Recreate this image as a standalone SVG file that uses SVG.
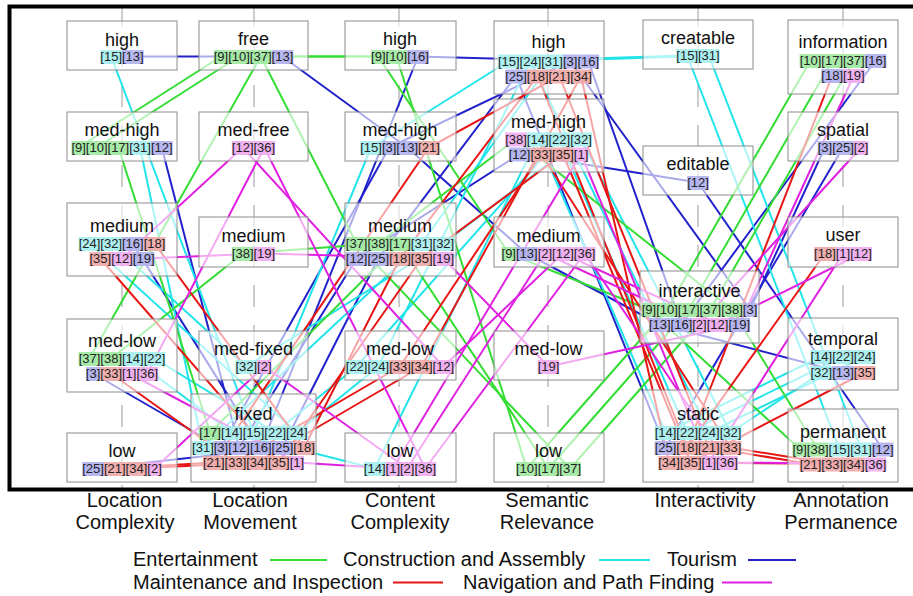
<svg xmlns="http://www.w3.org/2000/svg" width="913" height="596" viewBox="0 0 913 596">
<style>
.ax{stroke:#9a9a9a;stroke-width:1;stroke-dasharray:22 18;fill:none}
.box{fill:#fff;fill-opacity:.62;stroke:#8c8c8c;stroke-width:1}
.ttl{font-family:"Liberation Sans",Arial,sans-serif;font-size:18px;fill:#111;text-anchor:middle}
.tg{font-family:"Liberation Sans",Arial,sans-serif;font-size:13px;fill:#222;text-anchor:middle}
.lbl{font-family:"Liberation Sans",Arial,sans-serif;font-size:20px;fill:#111;text-anchor:middle}
.leg{font-family:"Liberation Sans",Arial,sans-serif;font-size:20px;fill:#111}
#connectors polyline,.ll{fill:none;stroke-width:2;stroke-linejoin:round}
.E{stroke:#33dd33}.C{stroke:#22e4ea}.T{stroke:#2222cc}.M{stroke:#e81515}.N{stroke:#e020e0}
.e{fill:#9fe89f}.c{fill:#a5eeee}.t{fill:#b0b0f0}.m{fill:#f0a7a7}.n{fill:#eeaaee}
.e,.c,.t,.m,.n{fill-opacity:.9}
</style>
<rect width="913" height="596" fill="#fff"/>
<g id="axes">
<line class="ax" x1="122" y1="5" x2="122" y2="488"/>
<line class="ax" x1="254" y1="5" x2="254" y2="488"/>
<line class="ax" x1="399" y1="5" x2="399" y2="488"/>
<line class="ax" x1="548" y1="5" x2="548" y2="488"/>
<line class="ax" x1="698" y1="5" x2="698" y2="488"/>
<line class="ax" x1="843" y1="5" x2="843" y2="488"/>
</g>
<g id="connectors">
<polyline class="T" points="93.1,373.5 221,447.5 389.2,147.5 570.2,61 750.1,309.5 824.9,147.5"/>
<polyline class="T" points="161.8,147.5 239.1,447.5 356.6,258.5 519.6,154 698,182.5 882.8,449"/>
<polyline class="T" points="132.8,56.5 282.4,56.5 407.2,147.5 526.8,253.5 659.8,324.5 843,372.5"/>
<polyline class="T" points="132.8,243.5 260.7,447.5 418.1,56.5 588.3,61 681.4,324.5 875.5,60.5"/>
<polyline class="T" points="93.1,468.5 282.4,447.5 378.3,258.5 516,76 665.5,447.5 843,147.5"/>
<polyline class="C" points="132.8,358.5 231.8,432.5 374.7,468.5 537.7,139 665.5,432.5 821.3,356.5"/>
<polyline class="C" points="111.2,56.5 253.5,432.5 371.1,147.5 508.8,61 687.2,55.5 839.4,449"/>
<polyline class="C" points="154.5,358.5 275.2,432.5 356.6,366.5 559.3,139 687.2,432.5 843,356.5"/>
<polyline class="C" points="89.5,243.5 296.9,432.5 378.3,366.5 530.4,61 708.8,432.5 864.7,356.5"/>
<polyline class="C" points="140.1,147.5 202.9,447.5 421.7,243.5 552.1,61 708.8,55.5 861.1,449"/>
<polyline class="C" points="111.2,243.5 246.3,366.5 443.4,243.5 581,139 730.5,432.5 821.3,372.5"/>
<polyline class="E" points="78.6,147.5 221,56.5 378.3,56.5 508.8,253.5 648.9,309.5 799.6,449"/>
<polyline class="E" points="96.7,147.5 239.1,56.5 396.4,56.5 526.8,468.5 667,309.5 810.5,60.5"/>
<polyline class="E" points="118.4,147.5 210.1,432.5 400,243.5 548.5,468.5 688.7,309.5 832.2,60.5"/>
<polyline class="E" points="89.5,358.5 260.7,56.5 356.6,243.5 570.2,468.5 710.3,309.5 853.8,60.5"/>
<polyline class="E" points="111.2,358.5 242.7,253.5 378.3,243.5 516,139 732,309.5 817.7,449"/>
<polyline class="M" points="154.5,243.5 304.1,447.5 400,258.5 537.7,76 687.2,447.5 824.9,253.5"/>
<polyline class="M" points="687.2,447.5 832.2,75.5"/>
<polyline class="M" points="114.8,468.5 213.8,462.5 428.9,147.5 559.3,76 708.8,447.5 810.5,464"/>
<polyline class="M" points="111.2,373.5 235.4,462.5 400,366.5 541.3,154 730.5,447.5 832.2,464"/>
<polyline class="M" points="136.5,468.5 257.1,462.5 421.7,366.5 581,76 669.1,462.5 853.8,464"/>
<polyline class="M" points="100.3,258.5 278.8,462.5 421.7,258.5 563,154 690.8,462.5 864.7,372.5"/>
<polyline class="N" points="129.2,373.5 296.9,462.5 392.8,468.5 581,154 708.8,462.5 843,253.5"/>
<polyline class="N" points="154.5,468.5 264.3,366.5 407.2,468.5 544.9,253.5 699.5,324.5 861.1,147.5"/>
<polyline class="N" points="122,258.5 242.7,147.5 443.4,366.5 563,253.5 717.6,324.5 861.1,253.5"/>
<polyline class="N" points="143.7,258.5 264.3,253.5 443.4,258.5 548.5,366.5 739.3,324.5 853.8,75.5"/>
<polyline class="N" points="147.3,373.5 264.3,147.5 425.3,468.5 584.6,253.5 726.9,462.5 875.5,464"/>
</g>

<g id="lc-high"><rect class="box" x="67" y="21" width="110" height="49"/>
<rect class="c" x="100.3" y="50" width="21.7" height="14"/><rect class="t" x="122" y="50" width="21.7" height="14"/>
<text class="ttl" x="122" y="45.5">high</text><text class="tg" x="122" y="61">[15][13]</text></g>
<g id="lc-medhigh"><rect class="box" x="67" y="112" width="110" height="49"/>
<rect class="e" x="71.4" y="141" width="14.5" height="14"/><rect class="e" x="85.9" y="141" width="21.7" height="14"/><rect class="e" x="107.6" y="141" width="21.7" height="14"/><rect class="c" x="129.2" y="141" width="21.7" height="14"/><rect class="t" x="150.9" y="141" width="21.7" height="14"/>
<text class="ttl" x="122" y="135.5">med-high</text><text class="tg" x="122" y="152">[9][10][17][31][12]</text></g>
<g id="lc-medium"><rect class="box" x="67" y="203" width="110" height="73"/>
<rect class="c" x="78.6" y="237" width="21.7" height="14"/><rect class="c" x="100.3" y="237" width="21.7" height="14"/><rect class="t" x="122" y="237" width="21.7" height="14"/><rect class="m" x="143.7" y="237" width="21.7" height="14"/>
<rect class="m" x="89.5" y="252" width="21.7" height="14"/><rect class="n" x="111.2" y="252" width="21.7" height="14"/><rect class="t" x="132.8" y="252" width="21.7" height="14"/>
<text class="ttl" x="122" y="232">medium</text><text class="tg" x="122" y="248">[24][32][16][18]</text><text class="tg" x="122" y="263">[35][12][19]</text></g>
<g id="lc-medlow"><rect class="box" x="67" y="319" width="110" height="73"/>
<rect class="e" x="78.6" y="352" width="21.7" height="14"/><rect class="e" x="100.3" y="352" width="21.7" height="14"/><rect class="c" x="122" y="352" width="21.7" height="14"/><rect class="c" x="143.7" y="352" width="21.7" height="14"/>
<rect class="t" x="85.9" y="367" width="14.5" height="14"/><rect class="m" x="100.3" y="367" width="21.7" height="14"/><rect class="n" x="122" y="367" width="14.5" height="14"/><rect class="n" x="136.5" y="367" width="21.7" height="14"/>
<text class="ttl" x="122" y="347">med-low</text><text class="tg" x="122" y="363">[37][38][14][22]</text><text class="tg" x="122" y="378">[3][33][1][36]</text></g>
<g id="lc-low"><rect class="box" x="67" y="433" width="110" height="49"/>
<rect class="t" x="82.3" y="462" width="21.7" height="14"/><rect class="m" x="103.9" y="462" width="21.7" height="14"/><rect class="m" x="125.6" y="462" width="21.7" height="14"/><rect class="n" x="147.3" y="462" width="14.5" height="14"/>
<text class="ttl" x="122" y="457">low</text><text class="tg" x="122" y="473">[25][21][34][2]</text></g>

<g id="lm-free"><rect class="box" x="199" y="21" width="109" height="49"/>
<rect class="e" x="213.8" y="50" width="14.5" height="14"/><rect class="e" x="228.2" y="50" width="21.7" height="14"/><rect class="e" x="249.9" y="50" width="21.7" height="14"/><rect class="t" x="271.6" y="50" width="21.7" height="14"/>
<text class="ttl" x="253.5" y="45">free</text><text class="tg" x="253.5" y="61">[9][10][37][13]</text></g>
<g id="lm-medfree"><rect class="box" x="199" y="112" width="109" height="49"/>
<rect class="n" x="231.8" y="141" width="21.7" height="14"/><rect class="n" x="253.5" y="141" width="21.7" height="14"/>
<text class="ttl" x="253.5" y="135.5">med-free</text><text class="tg" x="253.5" y="152">[12][36]</text></g>
<g id="lm-medium"><rect class="box" x="199" y="217" width="109" height="50"/>
<rect class="e" x="231.8" y="247" width="21.7" height="14"/><rect class="n" x="253.5" y="247" width="21.7" height="14"/>
<text class="ttl" x="253.5" y="242">medium</text><text class="tg" x="253.5" y="258">[38][19]</text></g>
<g id="lm-medfixed"><rect class="box" x="199" y="331" width="109" height="49"/>
<rect class="c" x="235.4" y="360" width="21.7" height="14"/><rect class="n" x="257.1" y="360" width="14.5" height="14"/>
<text class="ttl" x="253.5" y="355">med-fixed</text><text class="tg" x="253.5" y="371">[32][2]</text></g>
<g id="lm-fixed"><rect class="box" x="191" y="394" width="125" height="88"/>
<rect class="e" x="199.3" y="426" width="21.7" height="14"/><rect class="c" x="221" y="426" width="21.7" height="14"/><rect class="c" x="242.7" y="426" width="21.7" height="14"/><rect class="c" x="264.3" y="426" width="21.7" height="14"/><rect class="c" x="286" y="426" width="21.7" height="14"/>
<rect class="c" x="192.1" y="441" width="21.7" height="14"/><rect class="t" x="213.8" y="441" width="14.5" height="14"/><rect class="t" x="228.2" y="441" width="21.7" height="14"/><rect class="t" x="249.9" y="441" width="21.7" height="14"/><rect class="t" x="271.6" y="441" width="21.7" height="14"/><rect class="m" x="293.3" y="441" width="21.7" height="14"/>
<rect class="m" x="202.9" y="456" width="21.7" height="14"/><rect class="m" x="224.6" y="456" width="21.7" height="14"/><rect class="m" x="246.3" y="456" width="21.7" height="14"/><rect class="m" x="268" y="456" width="21.7" height="14"/><rect class="n" x="289.6" y="456" width="14.5" height="14"/>
<text class="ttl" x="253.5" y="420">fixed</text><text class="tg" x="253.5" y="437">[17][14][15][22][24]</text><text class="tg" x="253.5" y="452">[31][3][12][16][25][18]</text><text class="tg" x="253.5" y="467">[21][33][34][35][1]</text></g>

<g id="cc-high"><rect class="box" x="345" y="21" width="111" height="49"/>
<rect class="e" x="371.1" y="50" width="14.5" height="14"/><rect class="e" x="385.6" y="50" width="21.7" height="14"/><rect class="t" x="407.2" y="50" width="21.7" height="14"/>
<text class="ttl" x="400" y="45">high</text><text class="tg" x="400" y="61">[9][10][16]</text></g>
<g id="cc-medhigh"><rect class="box" x="345" y="112" width="111" height="49"/>
<rect class="c" x="360.3" y="141" width="21.7" height="14"/><rect class="t" x="381.9" y="141" width="14.5" height="14"/><rect class="t" x="396.4" y="141" width="21.7" height="14"/><rect class="m" x="418.1" y="141" width="21.7" height="14"/>
<text class="ttl" x="400" y="135.5">med-high</text><text class="tg" x="400" y="152">[15][3][13][21]</text></g>
<g id="cc-medium"><rect class="box" x="345" y="203" width="111" height="73"/>
<rect class="e" x="345.8" y="237" width="21.7" height="14"/><rect class="e" x="367.5" y="237" width="21.7" height="14"/><rect class="e" x="389.1" y="237" width="21.7" height="14"/><rect class="c" x="410.8" y="237" width="21.7" height="14"/><rect class="c" x="432.5" y="237" width="21.7" height="14"/>
<rect class="t" x="345.8" y="252" width="21.7" height="14"/><rect class="t" x="367.5" y="252" width="21.7" height="14"/><rect class="m" x="389.1" y="252" width="21.7" height="14"/><rect class="m" x="410.8" y="252" width="21.7" height="14"/><rect class="n" x="432.5" y="252" width="21.7" height="14"/>
<text class="ttl" x="400" y="232">medium</text><text class="tg" x="400" y="248">[37][38][17][31][32]</text><text class="tg" x="400" y="263">[12][25][18][35][19]</text></g>
<g id="cc-medlow"><rect class="box" x="345" y="331" width="111" height="49"/>
<rect class="c" x="345.8" y="360" width="21.7" height="14"/><rect class="c" x="367.5" y="360" width="21.7" height="14"/><rect class="m" x="389.1" y="360" width="21.7" height="14"/><rect class="m" x="410.8" y="360" width="21.7" height="14"/><rect class="n" x="432.5" y="360" width="21.7" height="14"/>
<text class="ttl" x="400" y="355">med-low</text><text class="tg" x="400" y="371">[22][24][33][34][12]</text></g>
<g id="cc-low"><rect class="box" x="345" y="433" width="111" height="49"/>
<rect class="c" x="363.9" y="462" width="21.7" height="14"/><rect class="n" x="385.5" y="462" width="14.5" height="14"/><rect class="n" x="400" y="462" width="14.5" height="14"/><rect class="n" x="414.5" y="462" width="21.7" height="14"/>
<text class="ttl" x="400" y="457">low</text><text class="tg" x="400" y="473">[14][1][2][36]</text></g>

<g id="sr-high"><rect class="box" x="494" y="21" width="110" height="73"/>
<rect class="c" x="497.9" y="54.5" width="21.7" height="14"/><rect class="c" x="519.6" y="54.5" width="21.7" height="14"/><rect class="c" x="541.3" y="54.5" width="21.7" height="14"/><rect class="t" x="563" y="54.5" width="14.5" height="14"/><rect class="t" x="577.4" y="54.5" width="21.7" height="14"/>
<rect class="t" x="505.1" y="69.5" width="21.7" height="14"/><rect class="m" x="526.8" y="69.5" width="21.7" height="14"/><rect class="m" x="548.5" y="69.5" width="21.7" height="14"/><rect class="m" x="570.2" y="69.5" width="21.7" height="14"/>
<text class="ttl" x="548.5" y="48">high</text><text class="tg" x="548.5" y="65.5">[15][24][31][3][16]</text><text class="tg" x="548.5" y="80.5">[25][18][21][34]</text></g>
<g id="sr-medhigh"><rect class="box" x="494" y="99" width="110" height="73"/>
<rect class="n" x="505.1" y="132.5" width="21.7" height="14"/><rect class="c" x="526.8" y="132.5" width="21.7" height="14"/><rect class="c" x="548.5" y="132.5" width="21.7" height="14"/><rect class="c" x="570.2" y="132.5" width="21.7" height="14"/>
<rect class="t" x="508.8" y="147.5" width="21.7" height="14"/><rect class="m" x="530.4" y="147.5" width="21.7" height="14"/><rect class="m" x="552.1" y="147.5" width="21.7" height="14"/><rect class="n" x="573.8" y="147.5" width="14.5" height="14"/>
<text class="ttl" x="548.5" y="128">med-high</text><text class="tg" x="548.5" y="143.5">[38][14][22][32]</text><text class="tg" x="548.5" y="158.5">[12][33][35][1]</text></g>
<g id="sr-medium"><rect class="box" x="494" y="217" width="110" height="50"/>
<rect class="e" x="501.5" y="247" width="14.5" height="14"/><rect class="t" x="516" y="247" width="21.7" height="14"/><rect class="n" x="537.7" y="247" width="14.5" height="14"/><rect class="n" x="552.1" y="247" width="21.7" height="14"/><rect class="n" x="573.8" y="247" width="21.7" height="14"/>
<text class="ttl" x="548.5" y="242">medium</text><text class="tg" x="548.5" y="258">[9][13][2][12][36]</text></g>
<g id="sr-medlow"><rect class="box" x="494" y="331" width="110" height="49"/>
<rect class="n" x="537.7" y="360" width="21.7" height="14"/>
<text class="ttl" x="548.5" y="355">med-low</text><text class="tg" x="548.5" y="371">[19]</text></g>
<g id="sr-low"><rect class="box" x="494" y="433" width="110" height="49"/>
<rect class="e" x="516" y="462" width="21.7" height="14"/><rect class="e" x="537.7" y="462" width="21.7" height="14"/><rect class="e" x="559.3" y="462" width="21.7" height="14"/>
<text class="ttl" x="548.5" y="457">low</text><text class="tg" x="548.5" y="473">[10][17][37]</text></g>

<g id="in-creatable"><rect class="box" x="643" y="20" width="110" height="49"/>
<rect class="c" x="676.3" y="49" width="21.7" height="14"/><rect class="c" x="698" y="49" width="21.7" height="14"/>
<text class="ttl" x="698" y="44">creatable</text><text class="tg" x="698" y="60">[15][31]</text></g>
<g id="in-editable"><rect class="box" x="643" y="146" width="110" height="49"/>
<rect class="t" x="687.2" y="176" width="21.7" height="14"/>
<text class="ttl" x="698" y="170">editable</text><text class="tg" x="698" y="187">[12]</text></g>
<g id="in-interactive"><rect class="box" x="640" y="271" width="119" height="72"/>
<rect class="e" x="641.7" y="303" width="14.5" height="14"/><rect class="e" x="656.1" y="303" width="21.7" height="14"/><rect class="e" x="677.8" y="303" width="21.7" height="14"/><rect class="e" x="699.5" y="303" width="21.7" height="14"/><rect class="e" x="721.2" y="303" width="21.7" height="14"/><rect class="t" x="742.9" y="303" width="14.5" height="14"/>
<rect class="t" x="648.9" y="318" width="21.7" height="14"/><rect class="t" x="670.6" y="318" width="21.7" height="14"/><rect class="n" x="692.3" y="318" width="14.5" height="14"/><rect class="n" x="706.7" y="318" width="21.7" height="14"/><rect class="t" x="728.4" y="318" width="21.7" height="14"/>
<text class="ttl" x="699.5" y="297">interactive</text><text class="tg" x="699.5" y="314">[9][10][17][37][38][3]</text><text class="tg" x="699.5" y="329">[13][16][2][12][19]</text></g>
<g id="in-static"><rect class="box" x="643" y="390" width="110" height="92"/>
<rect class="c" x="654.6" y="426" width="21.7" height="14"/><rect class="c" x="676.3" y="426" width="21.7" height="14"/><rect class="c" x="698" y="426" width="21.7" height="14"/><rect class="c" x="719.7" y="426" width="21.7" height="14"/>
<rect class="t" x="654.6" y="441" width="21.7" height="14"/><rect class="m" x="676.3" y="441" width="21.7" height="14"/><rect class="m" x="698" y="441" width="21.7" height="14"/><rect class="m" x="719.7" y="441" width="21.7" height="14"/>
<rect class="m" x="658.3" y="456" width="21.7" height="14"/><rect class="m" x="679.9" y="456" width="21.7" height="14"/><rect class="n" x="701.6" y="456" width="14.5" height="14"/><rect class="n" x="716.1" y="456" width="21.7" height="14"/>
<text class="ttl" x="698" y="420">static</text><text class="tg" x="698" y="437">[14][22][24][32]</text><text class="tg" x="698" y="452">[25][18][21][33]</text><text class="tg" x="698" y="467">[34][35][1][36]</text></g>

<g id="ap-information"><rect class="box" x="788" y="20" width="110" height="74"/>
<rect class="e" x="799.6" y="54" width="21.7" height="14"/><rect class="e" x="821.3" y="54" width="21.7" height="14"/><rect class="e" x="843" y="54" width="21.7" height="14"/><rect class="t" x="864.7" y="54" width="21.7" height="14"/>
<rect class="t" x="821.3" y="69" width="21.7" height="14"/><rect class="n" x="843" y="69" width="21.7" height="14"/>
<text class="ttl" x="843" y="48">information</text><text class="tg" x="843" y="65">[10][17][37][16]</text><text class="tg" x="843" y="80">[18][19]</text></g>
<g id="ap-spatial"><rect class="box" x="788" y="112" width="110" height="49"/>
<rect class="t" x="817.7" y="141" width="14.5" height="14"/><rect class="t" x="832.2" y="141" width="21.7" height="14"/><rect class="n" x="853.8" y="141" width="14.5" height="14"/>
<text class="ttl" x="843" y="135.5">spatial</text><text class="tg" x="843" y="152">[3][25][2]</text></g>
<g id="ap-user"><rect class="box" x="788" y="217" width="110" height="50"/>
<rect class="m" x="814.1" y="247" width="21.7" height="14"/><rect class="n" x="835.8" y="247" width="14.5" height="14"/><rect class="n" x="850.2" y="247" width="21.7" height="14"/>
<text class="ttl" x="843" y="241">user</text><text class="tg" x="843" y="258">[18][1][12]</text></g>
<g id="ap-temporal"><rect class="box" x="788" y="318" width="110" height="72"/>
<rect class="c" x="810.5" y="350" width="21.7" height="14"/><rect class="c" x="832.2" y="350" width="21.7" height="14"/><rect class="c" x="853.8" y="350" width="21.7" height="14"/>
<rect class="c" x="810.5" y="366" width="21.7" height="14"/><rect class="t" x="832.2" y="366" width="21.7" height="14"/><rect class="m" x="853.8" y="366" width="21.7" height="14"/>
<text class="ttl" x="843" y="345">temporal</text><text class="tg" x="843" y="361">[14][22][24]</text><text class="tg" x="843" y="377">[32][13][35]</text></g>
<g id="ap-permanent"><rect class="box" x="788" y="409" width="110" height="73"/>
<rect class="e" x="792.4" y="442.5" width="14.5" height="14"/><rect class="e" x="806.9" y="442.5" width="21.7" height="14"/><rect class="c" x="828.6" y="442.5" width="21.7" height="14"/><rect class="c" x="850.2" y="442.5" width="21.7" height="14"/><rect class="t" x="871.9" y="442.5" width="21.7" height="14"/>
<rect class="m" x="799.6" y="457.5" width="21.7" height="14"/><rect class="m" x="821.3" y="457.5" width="21.7" height="14"/><rect class="m" x="843" y="457.5" width="21.7" height="14"/><rect class="n" x="864.7" y="457.5" width="21.7" height="14"/>
<text class="ttl" x="843" y="438">permanent</text><text class="tg" x="843" y="453.5">[9][38][15][31][12]</text><text class="tg" x="843" y="468.5">[21][33][34][36]</text></g>

<rect x="9.5" y="6.5" width="930" height="483" fill="none" stroke="#000" stroke-width="4"/>

<g id="axis-labels">
<text class="lbl" x="124.5" y="507">Location</text><text class="lbl" x="125" y="529">Complexity</text>
<text class="lbl" x="250" y="507">Location</text><text class="lbl" x="250" y="529">Movement</text>
<text class="lbl" x="400" y="507">Content</text><text class="lbl" x="400" y="529">Complexity</text>
<text class="lbl" x="547" y="507">Semantic</text><text class="lbl" x="547" y="529">Relevance</text>
<text class="lbl" x="705" y="507">Interactivity</text>
<text class="lbl" x="841" y="507">Annotation</text><text class="lbl" x="841" y="529">Permanence</text>
</g>
<g id="legend">
<text class="leg" x="133" y="566">Entertainment</text><line class="ll E" x1="270" y1="560" x2="327" y2="560"/>
<text class="leg" x="343" y="566">Construction and Assembly</text><line class="ll C" x1="599" y1="560" x2="650" y2="560"/>
<text class="leg" x="667" y="566">Tourism</text><line class="ll T" x1="748" y1="560" x2="796" y2="560"/>
<text class="leg" x="133" y="589">Maintenance and Inspection</text><line class="ll M" x1="393" y1="582.5" x2="443" y2="582.5"/>
<text class="leg" x="463" y="589">Navigation and Path Finding</text><line class="ll N" x1="722" y1="582.5" x2="772" y2="582.5"/>
</g>
</svg>
